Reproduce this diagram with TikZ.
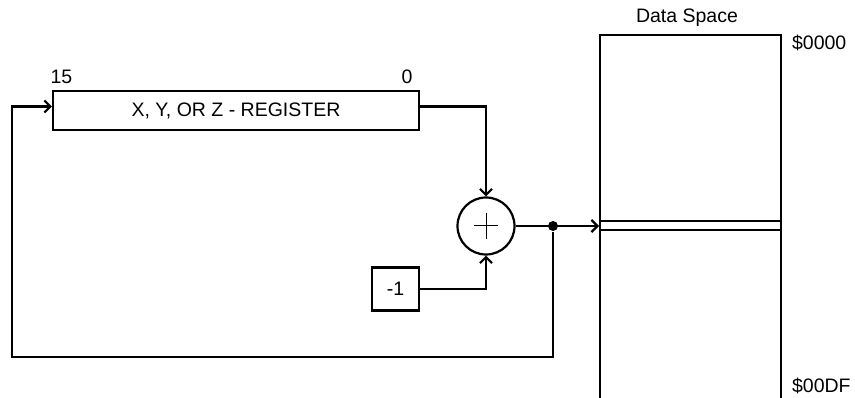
\documentclass[tikz,border=0pt]{standalone}
\usepackage{fontspec}
\setmainfont{Liberation Sans}
\usetikzlibrary{positioning,arrows.meta}

\begin{document}
\begin{tikzpicture}[x=1pt,y=-1pt,line width=2.2pt,
    >={Straight Barb[length=6pt,width=12pt]},
    font=\fontsize{19.5}{22}\selectfont,
    blk/.style={draw,inner sep=0pt}]
      \useasboundingbox (0,0) rectangle (855,398);
      % Register
      \node[blk,minimum width=366pt,minimum height=39pt] (reg) at (236,110.5) {X, Y, OR Z - REGISTER};
      \node (l15) at (61.5,77) {15};
      \node (l0) at (407,77) {0};
      % Adder and constant
      \node[circle,draw,minimum size=57pt,inner sep=0pt] (sum) at (486,226) {};
      \draw[line width=1pt] (sum.center) +(-12,0) -- +(12,0) +(0,-13) -- +(0,13);
      \node[blk,minimum width=47pt,minimum height=43pt] (dec) at (395.5,289) {-1};
      % Data space
      \draw (600,398) |- (781,35) -- (781,398);
      \draw (600,221) -- (781,221);
      \draw (600,230) -- (781,230);
      \coordinate (mem) at (599,226);
      \node (ds) at (687,17.5) {Data Space};
      \node[anchor=west,inner sep=0pt] (atop) at (791,42.5) {\$0000};
      \node[anchor=west,inner sep=0pt] (abot) at (791,386) {\$00DF};
      % Connections
      \node[circle,fill,inner sep=0pt,minimum size=10pt] (jn) at (553,226) {};
      \coordinate (lpb) at (12,357);
      \draw[->] ([yshift=4pt]reg.east) -| (sum.north);
      \draw[->] (dec.east) -| (sum.south);
      \draw[->] (sum.east) -- (mem);
      \draw[->] (jn) |- (lpb) |- ([yshift=4pt]reg.west);
\end{tikzpicture}
\end{document}
